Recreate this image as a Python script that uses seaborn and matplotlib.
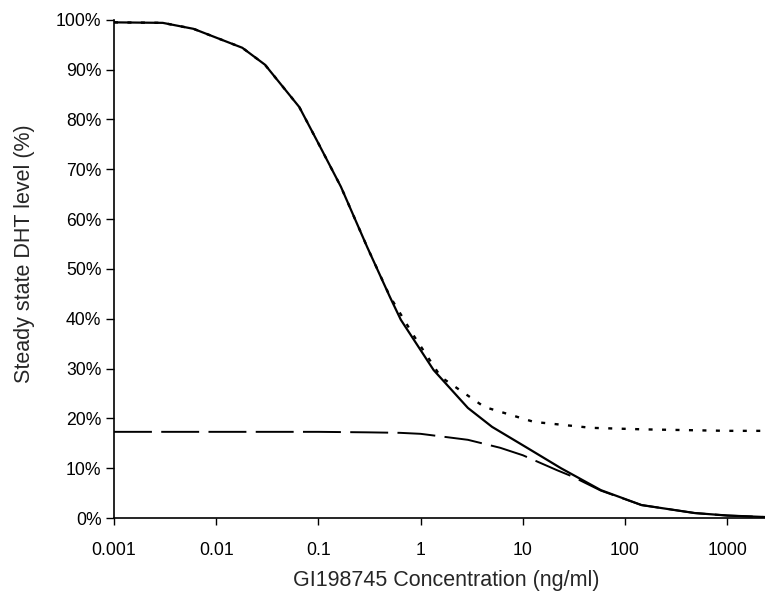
import matplotlib
matplotlib.use("Agg")
import matplotlib.pyplot as plt
import seaborn as sns
import pandas as pd
from matplotlib.ticker import FixedLocator, FixedFormatter, NullLocator

# ---- data ----
solid_x = [0.001, 0.003, 0.006, 0.018, 0.03, 0.065, 0.1, 0.166, 0.3, 0.5, 0.64, 1.0,
           1.34, 2.9, 5, 11, 23.6, 58, 145, 480, 1000, 2340]
solid_y = [99.5, 99.4, 98.2, 94.4, 91.0, 82.5, 75.2, 66.5, 54.4, 44.4, 39.8, 33.7,
           29.7, 22.1, 18.3, 14.1, 10.0, 5.6, 2.6, 1.0, 0.5, 0.2]

dotted_x = [0.001, 0.003, 0.006, 0.018, 0.03, 0.065, 0.1, 0.166, 0.3, 0.5, 0.85,
            1.58, 4.2, 12.8, 47, 150, 1000, 2340]
dotted_y = [99.5, 99.4, 98.2, 94.4, 91.0, 82.5, 75.2, 66.5, 54.4, 44.5, 36.7,
            28.3, 22.3, 19.3, 18.1, 17.8, 17.5, 17.5]

dashed_x = [0.001, 0.01, 0.1, 0.3, 0.63, 1.0, 2.9, 6, 10, 21.6, 30, 58, 145, 480, 1000, 2340]
dashed_y = [17.3, 17.3, 17.3, 17.2, 17.1, 16.9, 15.7, 14.1, 12.6, 9.6, 8.4, 5.5, 2.6, 1.0, 0.5, 0.2]

x_ticks = [0.001, 0.01, 0.1, 1, 10, 100, 1000]
x_tick_labels = ["0.001", "0.01", "0.1", "1", "10", "100", "1000"]
y_ticks = [0, 10, 20, 30, 40, 50, 60, 70, 80, 90, 100]
y_tick_labels = [f"{v}%" for v in y_ticks]

sns.set_style("ticks")
plt.rcParams['font.family'] = ['Liberation Sans', 'DejaVu Sans']

fig = plt.figure(figsize=(7.65, 6.02), dpi=100)
ax = fig.add_axes([0.149, 0.1395, 0.851, 0.8275])

df_solid = pd.DataFrame({"x": solid_x, "y": solid_y})
df_dotted = pd.DataFrame({"x": dotted_x, "y": dotted_y})
df_dashed = pd.DataFrame({"x": dashed_x, "y": dashed_y})

sns.lineplot(data=df_dotted, x="x", y="y", ax=ax, color="black", lw=1.7, estimator=None)
ax.lines[-1].set_dashes((1.7, 4.0))
sns.lineplot(data=df_dashed, x="x", y="y", ax=ax, color="black", lw=1.4, estimator=None)
ax.lines[-1].set_dashes((19.5, 4.8))
sns.lineplot(data=df_solid, x="x", y="y", ax=ax, color="black", lw=1.6, estimator=None)

ax.set_xscale("log")
ax.set_xlim(0.001, 2340)
ax.set_ylim(0, 100)
ax.xaxis.set_major_locator(FixedLocator(x_ticks))
ax.xaxis.set_major_formatter(FixedFormatter(x_tick_labels))
ax.xaxis.set_minor_locator(NullLocator())
ax.yaxis.set_major_locator(FixedLocator(y_ticks))
ax.yaxis.set_major_formatter(FixedFormatter(y_tick_labels))

for s in ["top", "right"]:
    ax.spines[s].set_visible(False)
for s in ["left", "bottom"]:
    ax.spines[s].set_color("black")
    ax.spines[s].set_linewidth(1.2)

ax.tick_params(axis="y", direction="out", length=6, width=1.0, pad=3, labelsize=12.7, colors="black")
ax.tick_params(axis="x", direction="out", length=5, width=1.0, pad=12, labelsize=12.7, colors="black")

ax.set_xlabel("GI198745 Concentration (ng/ml)", fontsize=15.5, va="center")
ax.set_ylabel("Steady state DHT level (%)", fontsize=15.5, va="center")
ax.xaxis.set_label_coords(0.51, -0.126)
ax.yaxis.set_label_coords(-0.138, 0.53)

fig.savefig("out.png", dpi=100)
